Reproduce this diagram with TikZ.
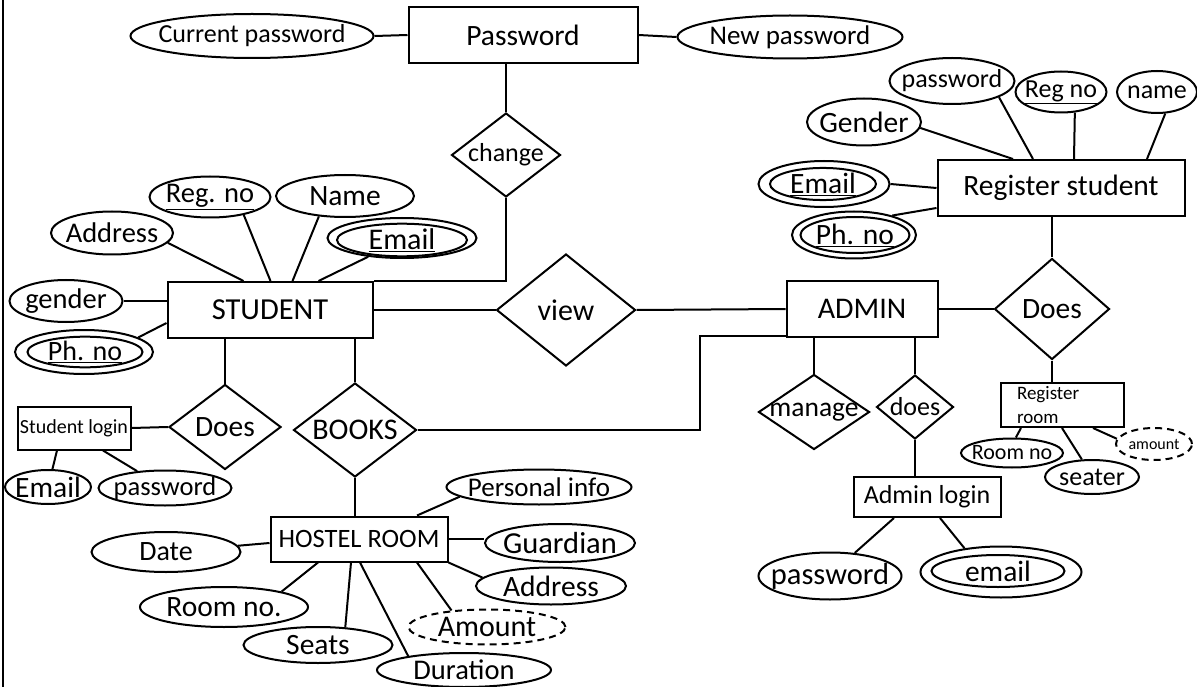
\documentclass[tikz,border=0pt]{standalone}
\usepackage{fontspec}
\setmainfont{Carlito}
\usetikzlibrary{shapes.geometric,calc}
\newcommand{\zw}[1]{\makebox[0pt]{#1}}
\newcommand{\fsz}[1]{\fontsize{#1}{#1}\selectfont}
\tikzset{
  sz/.style 2 args={minimum width=#1pt, minimum height=#2pt},
  ent/.style={draw, rectangle, inner sep=0pt},
  att/.style={draw, ellipse, inner sep=0pt},
  rel/.style={draw, diamond, aspect=1, inner sep=0pt},
  der/.style={att, dash pattern=on 7pt off 5pt},
}
\begin{document}
\begin{tikzpicture}[x=1pt, y=-1pt, line width=2pt, font=\fsz{29.5}]
\useasboundingbox (0,0) rectangle (1197,687);
\coordinate (ftop) at (3,0);
\coordinate (fbot) at (3,687);
\draw (ftop) -- (fbot);

% entities
\node[ent, sz={229}{56}] (pwd) at (523,35) {\zw{Password}};
\node[ent, sz={205}{56}, font=\fsz{30.5}] (stu) at (270,310) {\zw{STUDENT}};
\node[ent, sz={113}{43}, font=\fsz{20}] (slogin) at (74,428) {\zw{Student login}};
\node[ent, sz={177}{45}, font=\fsz{26.5}] (hostel) at (359,539) {\zw{HOSTEL ROOM}};
\node[ent, sz={151}{56}, font=\fsz{30}] (admin) at (862,309) {\zw{ADMIN}};
\node[ent, sz={247}{56}] (regstu) at (1061,188) {\zw{Register student}};
\node[ent, sz={147}{40}, font=\fsz{26}] (alogin) at (927,497) {\zw{Admin login}};
\node[ent, sz={123}{44}] (rroom) at (1062,405) {};
\node[anchor=west, align=left, font=\fontsize{19}{24}\selectfont, inner sep=0pt] (rroomt) at (1016,405) {Register\\room};

% relationships
\node[rel, sz={109}{84}, font=\fsz{26}] (chg) at (506,155) {\zw{change}};
\node[rel, sz={112}{85}] (sdoes) at (225,427) {\zw{Does}};
\node[rel, sz={123}{94}, font=\fsz{30}] (books) at (355,430) {\zw{BOOKS}};
\node[rel, sz={139}{112}, font=\fsz{30}] (view) at (566,310) {\zw{view}};
\node[rel, sz={115}{101}] (adoes) at (1052,309) {\zw{Does}};
\node[rel, sz={111}{75}, font=\fsz{27.5}] (mng) at (814,412) {\zw{manage}};
\node[rel, sz={77}{64}, font=\fsz{26}] (ados) at (915,407) {\zw{does}};

% attributes
\node[att, sz={243}{44}, font=\fsz{26}] (cpw) at (252,36) {\zw{Current password}};
\node[att, sz={225}{43}, font=\fsz{27}] (npw) at (790,37) {\zw{New password}};
\node[att, sz={121}{41}, font=\fsz{28.5}] (regno) at (210,197) {\zw{\underline{Reg. no}}};
\node[att, sz={138}{42}] (name) at (345,196) {\zw{Name}};
\node[att, sz={122}{43}, font=\fsz{28.5}] (addr) at (112,233) {\zw{Address}};
\node[att, sz={149}{40}] (semail) at (402,238) {};
\node[att, sz={130}{28}, font=\fsz{30}] (semaili) at (402,240) {\zw{\underline{Email}}};
\node[att, sz={113}{42}, font=\fsz{28.5}] (gender) at (66,301) {\zw{gender}};
\node[att, sz={138}{44}] (sph) at (84,352) {};
\node[att, sz={115}{29}, font=\fsz{28}] (sphi) at (85,352) {\zw{\underline{Ph. no}}};
\node[att, sz={86}{34}] (lemail) at (48,487) {\zw{Email}};
\node[att, sz={133}{35}, font=\fsz{26.5}] (lpwd) at (165,488) {\zw{password}};
\node[att, sz={149}{40}, font=\fsz{28}] (date) at (166,552) {\zw{Date}};
\node[att, sz={168}{40}] (roomno) at (224,607) {\zw{Room no.}};
\node[att, sz={149}{36}] (seats) at (318,645) {\zw{Seats}};
\node[att, sz={174}{34}, font=\fsz{28.5}] (dur) at (464,670) {\zw{Duration}};
\node[der, sz={157}{35}, font=\fsz{30}] (amt) at (487,627) {\zw{Amount}};
\node[att, sz={150}{37}] (haddr) at (551,586) {\zw{Address}};
\node[att, sz={150}{38}, font=\fsz{30.5}] (guard) at (560,543) {\zw{Guardian}};
\node[att, sz={185}{35}, font=\fsz{27}] (pinfo) at (539,487) {\zw{Personal info}};
\node[att, sz={125}{46}, font=\fsz{26}] (rpwd) at (952,81) {\zw{password}};
\node[att, sz={91}{41}, font=\fsz{26}] (rreg) at (1061,92) {\zw{\underline{Reg no}}};
\node[att, sz={80}{42}, font=\fsz{26}] (rname) at (1157,92) {\zw{name}};
\node[att, sz={114}{47}] (rgender) at (864,122) {\zw{Gender}};
\node[att, sz={131}{46}] (remail) at (824,184) {};
\node[att, sz={106}{32}] (remaili) at (823,184) {\zw{\underline{Email}}};
\node[att, sz={124}{47}] (rph) at (854,235) {};
\node[att, sz={109}{36}] (rphi) at (855,235) {\zw{\underline{Ph. no}}};
\node[att, sz={143}{47}, font=\fsz{30.5}] (apwd) at (830,576) {\zw{password}};
\node[att, sz={161}{51}] (aemail) at (1001,572) {};
\node[att, sz={133}{32}] (aemaili) at (998,571) {\zw{email}};
\node[att, sz={102}{29}, font=\fsz{22}] (rrno) at (1012,453) {\zw{Room no}};
\node[att, sz={94}{34}, font=\fsz{26}] (seater) at (1092,477) {\zw{seater}};
\node[der, sz={76}{32}, font=\fsz{16}] (ramt) at (1154,444) {\zw{amount}};

\coordinate (bk) at (700,336);

% connectors
\draw (cpw.east) -- (pwd.west);
\draw (pwd.east) -- (npw.west);
\draw (chg.north |- pwd.south) -- (chg.north);
\draw (chg.south) -- (chg.south |- stu.north) -- (stu.north east);
\draw (addr.-10) -- ([xshift=77pt]stu.north west);
\draw (regno.-28) -- ([xshift=104pt]stu.north west);
\draw (name.-142) -- ([xshift=126pt]stu.north west);
\draw (semail.-151) -- ([xshift=152pt]stu.north west);
\draw (gender) -- (gender -| stu.west);
\draw (sph.15) -- ([yshift=-13pt]stu.west);
\draw (sdoes.north |- stu.south) -- (sdoes.north);
\draw (books.north |- stu.south) -- (books.north);
\draw (slogin.east) -- (sdoes.west);
\draw ([xshift=-17pt]slogin.south) -- (lemail);
\draw ([xshift=29pt]slogin.south) -- (lpwd);
\draw (stu.east) -- (view.west);
\draw (view.east) -- (admin.west);
\draw (books.east) -| (bk) -- ([yshift=-27pt]admin.west);
\draw (books.south) -- (books.south |- hostel.north);
\draw (date) -- ([yshift=-4pt]hostel.west);
\draw ([xshift=-41pt]hostel.south) -- (roomno.15);
\draw ([xshift=-8pt]hostel.south) -- (seats.33);
\draw ([xshift=1pt]hostel.south) -- (dur.166);
\draw ([xshift=58pt]hostel.south) -- (amt.155);
\draw (hostel.south east) -- (haddr.173);
\draw (hostel.east) -- (hostel.east -| guard.west);
\draw ([xshift=58pt]hostel.north) -- (pinfo.187);
\draw (mng.north |- admin.south) -- (mng.north);
\draw (ados.north |- admin.south) -- (ados.north);
\draw (ados.south) -- (ados.south |- alogin.north);
\draw ([xshift=-33pt]alogin.south) -- (apwd.43);
\draw ([xshift=13pt]alogin.south) -- (aemail.147);
\draw (admin.east) -- (adoes.west);
\draw (adoes.north |- regstu.south) -- (adoes.north);
\draw (adoes.south) -- (adoes.south |- rroom.north);
\draw ([xshift=76.5pt]regstu.north west) -- (rgender.-6);
\draw ([xshift=96.5pt]regstu.north west) -- (rpwd.-19);
\draw ([xshift=137.5pt]regstu.north west) -- (rreg.-56);
\draw ([xshift=210.5pt]regstu.north west) -- (rname.-69);
\draw (remail.east) -- (regstu.west);
\draw ([yshift=9pt]regstu.south west) -- (rph.27);
\draw ([xshift=21.5pt]rroom.south west) -- (rrno.76);
\draw ([xshift=62.5pt]rroom.south west) -- (seater.120);
\draw ([xshift=93.5pt]rroom.south west) -- (ramt.172);
\end{tikzpicture}
\end{document}
